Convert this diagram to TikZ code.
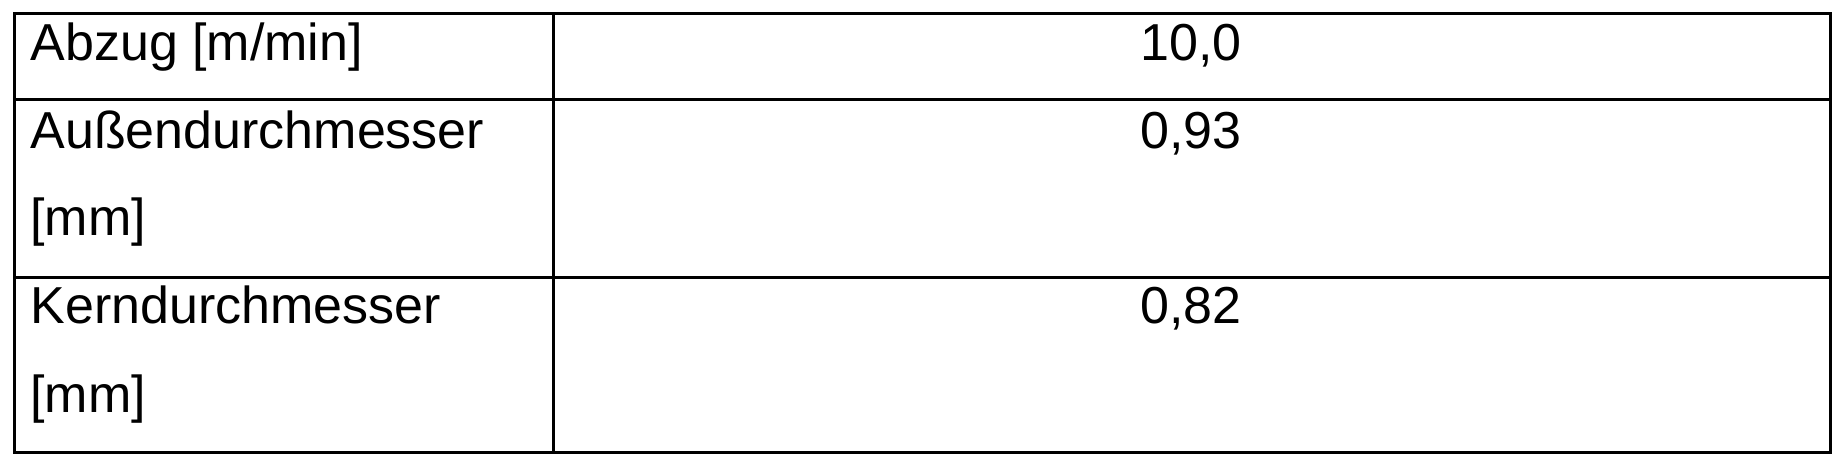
\documentclass[tikz,border=0pt]{standalone}
\usepackage{fontspec}
\setmainfont{Liberation Sans}
\begin{document}
\begin{tikzpicture}[x=1pt,y=-1pt,line width=3pt,
  lab/.style={anchor=base west,inner sep=0pt,font=\fontsize{52}{52}\selectfont},
  val/.style={anchor=base,inner sep=0pt,font=\fontsize{52}{52}\selectfont}]
\useasboundingbox (0,0) rectangle (1845,469);
\draw (14,13) rectangle (1830,452);
\draw (553,13) -- (553,452);
\draw (14,99) -- (1830,99);
\draw (14,277) -- (1830,277);
\node[lab] (a1) at (29,60) {Abzug [m/min]};
\node[val] (v1) at (1191,60) {10,0};
\node[lab] (a2) at (29,148) {Außendurchmesser};
\node[lab] (a2b) at (29,235) {[mm]};
\node[val] (v2) at (1191,148) {0,93};
\node[lab] (a3) at (29,323) {Kerndurchmesser};
\node[lab] (a3b) at (29,412) {[mm]};
\node[val] (v3) at (1191,323) {0,82};
\end{tikzpicture}
\end{document}
